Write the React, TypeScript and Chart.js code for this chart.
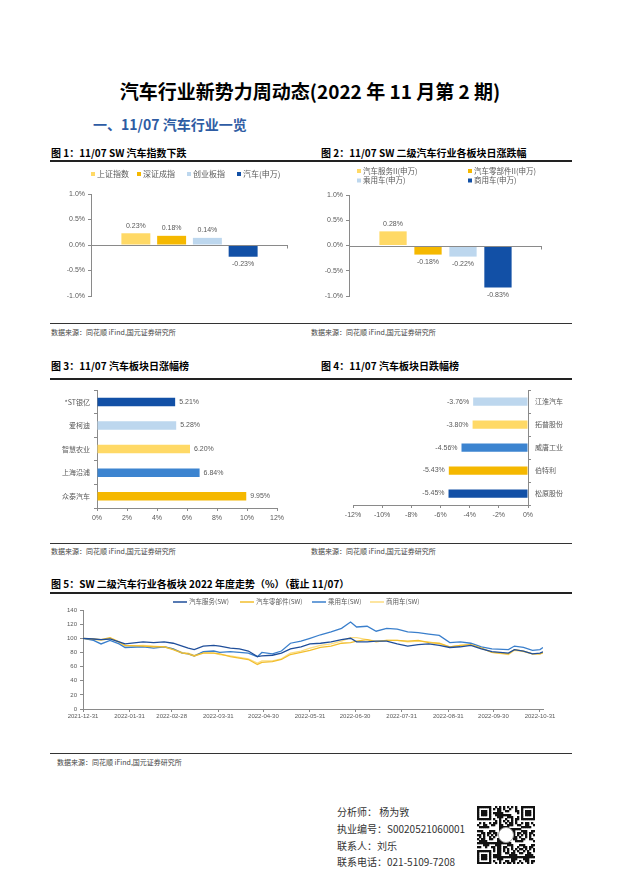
import React, { useEffect, useRef } from 'react';
import { Chart, registerables } from 'chart.js';

Chart.register(...registerables);

const FONT_CN = '"Noto Sans CJK SC", "Noto Sans", sans-serif';
const FONT_NUM = '"Liberation Sans", Arial, sans-serif';
const GRAY = '#595959';
const AXIS = '#8a8a8a';

// ---------- Figure 1 ----------
const fig1Series = ['上证指数', '深证成指', '创业板指', '汽车(申万)'];
const fig1Values = [0.23, 0.18, 0.14, -0.23];
const fig1Colors = ['#FFD966', '#F5B800', '#BDD7EE', '#1250A6'];

// ---------- Figure 2 ----------
const fig2Series = ['汽车服务II(申万)', '汽车零部件II(申万)', '乘用车(申万)', '商用车(申万)'];
const fig2Values = [0.28, -0.18, -0.22, -0.83];
const fig2Colors = ['#FFD966', '#F5B800', '#BDD7EE', '#1250A6'];

// ---------- Figure 3 ----------
const fig3Stocks = ['*ST银亿', '爱柯迪', '智慧农业', '上海沿浦', '众泰汽车'];
const fig3Values = [5.21, 5.28, 6.2, 6.84, 9.95];
const fig3Colors = ['#1250A6', '#BDD7EE', '#FFD966', '#3C84D0', '#F5B800'];

// ---------- Figure 4 ----------
const fig4Stocks = ['江淮汽车', '拓普股份', '威唐工业', '伯特利', '松原股份'];
const fig4Values = [-3.76, -3.8, -4.56, -5.43, -5.45];
const fig4Colors = ['#BDD7EE', '#FFD966', '#3C84D0', '#F5B800', '#1250A6'];

// ---------- Figure 5 ----------
const fig5Names = ['汽车服务(SW)', '汽车零部件(SW)', '乘用车(SW)', '商用车(SW)'];
const fig5Colors = ['#1F4E9A', '#F2BE2E', '#3A7FCC', '#FCDD80'];
const fig5Dates = [
  '2021-12-31', '2022-01-07', '2022-01-12', '2022-01-18', '2022-01-24', '2022-01-28', '2022-02-09', '2022-02-16', '2022-02-23', '2022-03-01',
  '2022-03-07', '2022-03-11', '2022-03-15', '2022-03-21', '2022-03-28', '2022-04-01', '2022-04-08', '2022-04-14', '2022-04-20', '2022-04-26',
  '2022-04-29', '2022-05-06', '2022-05-12', '2022-05-18', '2022-05-25', '2022-05-31', '2022-06-07', '2022-06-14', '2022-06-21', '2022-06-27',
  '2022-07-01', '2022-07-08', '2022-07-14', '2022-07-21', '2022-07-28', '2022-08-04', '2022-08-11', '2022-08-18', '2022-08-25', '2022-09-01',
  '2022-09-08', '2022-09-15', '2022-09-22', '2022-09-29', '2022-10-10', '2022-10-14', '2022-10-20', '2022-10-26', '2022-10-31', '2022-11-02',
];
const fig5Service = [
  100, 99, 98, 99, 95, 92, 95, 94, 95, 93,
  89, 86, 84, 89, 90, 89, 86, 85, 82, 74,
  75, 76, 79, 85, 88, 92, 93, 95, 98, 100,
  95, 95, 96, 96, 92, 89, 91, 92, 90, 87,
  88, 90, 85, 81, 79, 84, 82, 78, 79, 81,
];
const fig5Parts = [
  100, 99, 98, 101, 95, 90, 89, 88, 88, 84,
  79, 78, 75, 79, 79, 78, 74, 72, 70, 63,
  66, 67, 70, 77, 80, 83, 87, 89, 93, 94,
  96, 98, 95, 97, 97, 96, 97, 94, 93, 88,
  90, 91, 86, 80, 78, 84, 82, 78, 78, 80,
];
const fig5Passenger = [
  100, 97, 92, 97, 92, 87, 88, 86, 88, 85,
  79, 78, 75, 81, 82, 80, 81, 80, 79, 74,
  80, 78, 82, 93, 96, 100, 105, 109, 114, 123,
  116, 117, 110, 114, 113, 109, 108, 106, 104, 94,
  95, 93, 88, 85, 84, 89, 87, 83, 84, 87,
];
const fig5Commercial = [
  100, 98, 97, 100, 94, 89, 90, 89, 88, 85,
  80, 79, 76, 80, 79, 77, 75, 73, 71, 65,
  68, 68, 71, 79, 82, 86, 90, 92, 96, 101,
  101, 98, 96, 97, 97, 95, 96, 95, 92, 88,
  90, 91, 86, 80, 77, 83, 81, 78, 78, 79,
];
const fig5TickDates = [
  '2021-12-31', '2022-01-31', '2022-02-28', '2022-03-31', '2022-04-30', '2022-05-31',
  '2022-06-30', '2022-07-31', '2022-08-31', '2022-09-30', '2022-10-31',
];
const fig5Start = '2021-12-31';
const fig5End = '2022-11-02';

const dayOf = (d: string) => Math.round((Date.parse(d) - Date.parse(fig5Start)) / 86400000);

// ---------- plugin ----------
const deco = {
  id: 'deco',
  afterDraw(chart: any, _args: any, o: any) {
    const ctx = chart.ctx;
    ctx.save();
    if (o.zeroLine) {
      const y = Math.round(chart.scales.y.getPixelForValue(0)) + 0.5;
      const { left, right } = chart.chartArea;
      ctx.strokeStyle = AXIS;
      ctx.lineWidth = 1;
      ctx.beginPath();
      ctx.moveTo(left, y);
      ctx.lineTo(right, y);
      ctx.moveTo(Math.round(right) - 0.5, y);
      ctx.lineTo(Math.round(right) - 0.5, y + 3);
      ctx.stroke();
    }
    if (o.valueLabels) {
      ctx.font = '7px ' + FONT_NUM;
      ctx.fillStyle = GRAY;
      const gap = 4;
      chart.data.datasets.forEach((ds: any, di: number) => {
        const meta = chart.getDatasetMeta(di);
        meta.data.forEach((el: any, i: number) => {
          const v = ds.data[i];
          const txt = v.toFixed(2) + '%';
          if (o.valueLabels === 'h') {
            ctx.textBaseline = 'middle';
            if (v >= 0) {
              ctx.textAlign = 'left';
              ctx.fillText(txt, el.x + gap, el.y);
            } else {
              ctx.textAlign = 'right';
              ctx.fillText(txt, el.x - gap, el.y);
            }
          } else {
            ctx.textAlign = 'center';
            if (v >= 0) {
              ctx.textBaseline = 'bottom';
              ctx.fillText(txt, el.x, el.y - gap);
            } else {
              ctx.textBaseline = 'top';
              ctx.fillText(txt, el.x, el.y + gap);
            }
          }
        });
      });
    }
    (o.legend || []).forEach((it: any) => {
      ctx.font = (it.size || 8) + 'px ' + FONT_CN;
      ctx.textBaseline = 'middle';
      ctx.textAlign = 'left';
      if (it.kind === 'line') {
        ctx.strokeStyle = it.color;
        ctx.lineWidth = 1.5;
        ctx.beginPath();
        ctx.moveTo(it.x, it.y);
        ctx.lineTo(it.x + 14, it.y);
        ctx.stroke();
        ctx.fillStyle = GRAY;
        ctx.fillText(it.text, it.x + 16, it.y);
      } else {
        ctx.fillStyle = it.color;
        ctx.fillRect(it.x, it.y - 2, 4, 4);
        ctx.fillStyle = GRAY;
        ctx.fillText(it.text, it.x + 6, it.y);
      }
    });
    ctx.restore();
  },
};

const tickFont = (s: number) => ({ family: FONT_NUM, size: s });
const cnFont = (s: number) => ({ family: FONT_CN, size: s });

const baseOpts = {
  responsive: false,
  animation: false,
  devicePixelRatio: 1,
  events: [],
};

function ChartBox({ left, top, width, height, make }: any) {
  const ref = useRef<HTMLCanvasElement>(null);
  useEffect(() => {
    const c = new Chart(ref.current as HTMLCanvasElement, make());
    return () => c.destroy();
  }, []);
  return (
    <canvas
      ref={ref}
      width={width}
      height={height}
      style={{ position: 'absolute', left, top, width, height }}
    />
  );
}

// ---------- chart configs ----------
function makeColumn(series: string[], values: number[], colors: string[], legend: any[], pad: any, yWidth: number, catPct: number, barPct: number) {
  return {
    type: 'bar',
    data: {
      labels: [''],
      datasets: series.map((s, i) => ({
        label: s,
        data: [values[i]],
        backgroundColor: colors[i],
        categoryPercentage: catPct,
        barPercentage: barPct,
      })),
    },
    options: {
      ...baseOpts,
      layout: { padding: pad },
      plugins: {
        legend: { display: false },
        tooltip: { enabled: false },
        deco: { zeroLine: true, valueLabels: 'v', legend },
      },
      scales: {
        x: { display: false },
        y: {
          min: -1,
          max: 1,
          ticks: { stepSize: 0.5, padding: 3, color: GRAY, font: tickFont(7), callback: (v: number) => v.toFixed(1) + '%' },
          grid: { drawOnChartArea: false, tickLength: 3, color: AXIS },
          border: { color: AXIS },
          afterFit: (s: any) => { s.width = yWidth; },
        },
      },
    },
    plugins: [deco],
  };
}

function makeHBar(cats: string[], values: number[], colors: string[], min: number, max: number, yRight: boolean, pad: any, yWidth: number, xHeight: number) {
  return {
    type: 'bar',
    data: {
      labels: cats,
      datasets: [{ data: values, backgroundColor: colors, barPercentage: 0.36, categoryPercentage: 1 }],
    },
    options: {
      ...baseOpts,
      indexAxis: 'y',
      layout: { padding: pad },
      plugins: {
        legend: { display: false },
        tooltip: { enabled: false },
        deco: { valueLabels: 'h' },
      },
      scales: {
        x: {
          min,
          max,
          ticks: { stepSize: 2, padding: 3, color: GRAY, font: tickFont(7), callback: (v: number) => v + '%' },
          grid: { drawOnChartArea: false, tickLength: 3, color: AXIS },
          border: { color: AXIS },
          afterFit: (s: any) => { s.height = xHeight; },
        },
        y: {
          position: yRight ? 'right' : 'left',
          ticks: { padding: 4, color: GRAY, font: cnFont(7) },
          grid: { drawOnChartArea: false, tickLength: 3, color: AXIS, offset: true },
          border: { color: AXIS },
          afterFit: (s: any) => { s.width = yWidth; },
        },
      },
    },
    plugins: [deco],
  };
}

function makeLines() {
  const all = [fig5Service, fig5Parts, fig5Passenger, fig5Commercial];
  const tickDays = fig5TickDates.map(dayOf);
  const legendX = [122, 189, 261, 319];
  return {
    type: 'line',
    data: {
      datasets: all.map((vals, si) => ({
        label: fig5Names[si],
        data: fig5Dates.map((d, i) => ({ x: dayOf(d), y: vals[i] })),
        borderColor: fig5Colors[si],
        borderWidth: 1.3,
        pointRadius: 0,
        tension: 0,
        fill: false,
      })),
    },
    options: {
      ...baseOpts,
      layout: { padding: { left: 0, right: 29, top: 14, bottom: 0 } },
      plugins: {
        legend: { display: false },
        tooltip: { enabled: false },
        deco: {
          legend: fig5Names.map((t, i) => ({ text: t, color: fig5Colors[i], x: legendX[i], y: 6, kind: 'line', size: 6.5 })),
        },
      },
      scales: {
        x: {
          type: 'linear',
          min: 0,
          max: dayOf(fig5End),
          afterBuildTicks: (s: any) => { s.ticks = tickDays.map((v) => ({ value: v })); },
          ticks: {
            autoSkip: false,
            maxRotation: 0,
            padding: 1,
            color: GRAY,
            font: tickFont(6),
            callback: (_v: number, i: number) => fig5TickDates[i],
          },
          grid: { drawOnChartArea: false, tickLength: 3, color: AXIS },
          border: { color: AXIS },
          afterFit: (s: any) => { s.height = 17; },
        },
        y: {
          min: 0,
          max: 140,
          ticks: { stepSize: 20, padding: 3, color: GRAY, font: tickFont(6) },
          grid: { drawOnChartArea: false, tickLength: 3, color: AXIS },
          border: { color: AXIS },
          afterFit: (s: any) => { s.width = 32; },
        },
      },
    },
    plugins: [deco],
  };
}

// ---------- small helpers ----------
function T({ x, y, size, children, bold, color = '#000', font = FONT_CN, style = {} }: any) {
  return (
    <div
      style={{
        position: 'absolute',
        left: x,
        top: y - size * 0.6,
        fontSize: size,
        lineHeight: size * 1.2 + 'px',
        fontWeight: bold ? 700 : 400,
        color,
        fontFamily: font,
        whiteSpace: 'nowrap',
        ...style,
      }}
    >
      {children}
    </div>
  );
}

function HLine({ x, y, w, h, color = '#222' }: any) {
  return <div style={{ position: 'absolute', left: x, top: y, width: w, height: h, background: color }} />;
}

function QR({ x, y, size }: any) {
  const ref = useRef<HTMLCanvasElement>(null);
  useEffect(() => {
    const c = ref.current as HTMLCanvasElement;
    const ctx = c.getContext('2d') as CanvasRenderingContext2D;
    const n = 29;
    const m = size / n;
    ctx.fillStyle = '#fff';
    ctx.fillRect(0, 0, size, size);
    ctx.fillStyle = '#111';
    const finder = (r0: number, c0: number) => {
      for (let r = 0; r < 7; r++)
        for (let cc = 0; cc < 7; cc++) {
          const edge = r === 0 || r === 6 || cc === 0 || cc === 6;
          const core = r >= 2 && r <= 4 && cc >= 2 && cc <= 4;
          if (edge || core) ctx.fillRect((c0 + cc) * m, (r0 + r) * m, m + 0.3, m + 0.3);
        }
    };
    for (let r = 0; r < n; r++)
      for (let cc = 0; cc < n; cc++) {
        const inF = (r < 8 && cc < 8) || (r < 8 && cc >= n - 8) || (r >= n - 8 && cc < 8);
        if (inF) continue;
        const h = ((r * 73856093) ^ (cc * 19349663) ^ (r * cc * 83492791)) >>> 0;
        if ((h >> 5) % 2 === 0) ctx.fillRect(cc * m, r * m, m + 0.3, m + 0.3);
      }
    finder(0, 0);
    finder(0, n - 7);
    finder(n - 7, 0);
    ctx.fillStyle = '#fff';
    ctx.beginPath();
    ctx.arc(size / 2, size / 2, size * 0.13, 0, Math.PI * 2);
    ctx.fill();
    ctx.strokeStyle = '#999';
    ctx.lineWidth = 1;
    ctx.stroke();
  }, []);
  return <canvas ref={ref} width={size} height={size} style={{ position: 'absolute', left: x, top: y, width: size, height: size }} />;
}

const SOURCE = '数据来源：同花顺 iFind,国元证券研究所';

export default function App() {
  const fig1Legend = fig1Series.map((t, i) => ({ text: t, color: fig1Colors[i], x: [40, 86, 136, 186][i], y: 11 }));
  const fig2Legend = fig2Series.map((t, i) => ({ text: t, color: fig2Colors[i], x: [46, 157, 46, 157][i], y: [8, 8, 17.5, 17.5][i], size: 7.5 }));
  return (
    <div
      style={{
        position: 'absolute',
        left: 0,
        top: 0,
        width: 620,
        height: 877,
        background: '#fff',
        overflow: 'hidden',
        fontFamily: FONT_CN,
      }}
    >
      <div
        style={{
          position: 'absolute',
          left: 0,
          width: 620,
          top: 91 - 13,
          textAlign: 'center',
          fontSize: 19,
          lineHeight: '26px',
          fontWeight: 700,
          fontFamily: FONT_CN,
          color: '#000',
        }}
      >
        汽车行业新势力周动态(2022 年 11 月第 2 期)
      </div>
      <T x={93} y={124} size={14} bold color="#2E5CA3">一、11/07 汽车行业一览</T>

      {/* figures 1 & 2 */}
      <T x={51} y={152.5} size={10} bold>图 1：11/07 SW 汽车指数下跌</T>
      <T x={321} y={152.5} size={10} bold>图 2：11/07 SW 二级汽车行业各板块日涨跌幅</T>
      <HLine x={50} y={159.5} w={522} h={2} />
      <ChartBox left={51} top={163} width={250} height={160}
        make={() => makeColumn(fig1Series, fig1Values, fig1Colors, fig1Legend, { left: 0, right: 13, top: 31, bottom: 27 }, 40, 0.726, 0.81)} />
      <ChartBox left={311} top={163} width={262} height={160}
        make={() => makeColumn(fig2Series, fig2Values, fig2Colors, fig2Legend, { left: 0, right: 31, top: 32, bottom: 27 }, 38, 0.725, 0.78)} />
      <HLine x={50} y={322.5} w={522} h={1} color="#333" />
      <T x={51} y={332.5} size={7} color="#444">{SOURCE}</T>
      <T x={311} y={332.5} size={7} color="#444">{SOURCE}</T>

      {/* figures 3 & 4 */}
      <T x={51} y={366} size={10} bold>图 3：11/07 汽车板块日涨幅榜</T>
      <T x={321} y={366} size={10} bold>图 4：11/07 汽车板块日跌幅榜</T>
      <HLine x={50} y={378} w={522} h={2} />
      <ChartBox left={51} top={382} width={250} height={145}
        make={() => makeHBar(fig3Stocks, fig3Values, fig3Colors, 0, 12, false, { left: 0, right: 24, top: 6, bottom: 0 }, 46, 19)} />
      <ChartBox left={311} top={382} width={262} height={145}
        make={() => makeHBar(fig4Stocks, fig4Values, fig4Colors, -12, 0, true, { left: 42, right: 0, top: 7, bottom: 0 }, 45, 22)} />
      <HLine x={50} y={542.5} w={522} h={1} color="#333" />
      <T x={51} y={551.5} size={7} color="#444">{SOURCE}</T>
      <T x={311} y={551.5} size={7} color="#444">{SOURCE}</T>

      {/* figure 5 */}
      <T x={51} y={584} size={10} bold>图 5：SW 二级汽车行业各板块 2022 年度走势（%）（截止 11/07）</T>
      <HLine x={50} y={592} w={522} h={2} />
      <ChartBox left={51} top={596} width={521} height={130} make={makeLines} />
      <HLine x={50} y={752.5} w={522} h={1} color="#333" />
      <T x={57} y={762.5} size={7} color="#444">{SOURCE}</T>

      {/* footer */}
      <T x={337} y={811.5} size={10} color="#333">分析师： 杨为敩</T>
      <T x={337} y={829} size={10} color="#333">执业编号：S0020521060001</T>
      <T x={337} y={845.5} size={10} color="#333">联系人：刘乐</T>
      <T x={337} y={861.5} size={10} color="#333">联系电话：021-5109-7208</T>
      <QR x={477} y={806} size={58} />
    </div>
  );
}
